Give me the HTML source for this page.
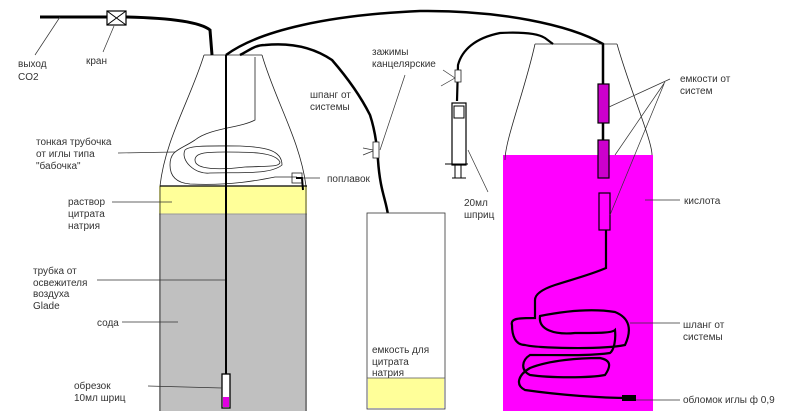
<!DOCTYPE html>
<html><head><meta charset="utf-8"><style>
html,body{margin:0;padding:0;background:#fff;}
svg{display:block}
text{font-family:"Liberation Sans",sans-serif;font-size:10px;fill:#333;}
</style></head><body>
<svg width="800" height="411" viewBox="0 0 800 411" xmlns="http://www.w3.org/2000/svg">
<!-- left bottle -->
<rect x="159" y="186" width="148" height="28" fill="#ffff99"/>
<rect x="159" y="214" width="148" height="197" fill="#c0c0c0"/>
<line x1="159" y1="214" x2="307" y2="214" stroke="#999" stroke-width="1"/>
<path d="M204,55 C190,100 165,140 160,186 L160,411 M262,55 C275,100 300,140 306,186 L306,411" fill="none" stroke="#222" stroke-width="0.8"/>
<line x1="204" y1="55" x2="262" y2="55" stroke="#222" stroke-width="0.8"/>
<line x1="160" y1="186" x2="307" y2="186" stroke="#000" stroke-width="1.3"/>
<!-- thin tube -->
<path d="M255,57 L255,120 C240,128 210,128 195,140 C180,150 170,150 170,165 C170,178 178,183 190,184 C230,186 260,180 275,177 L297,177" fill="none" stroke="#222" stroke-width="0.8"/>
<path d="M185,150 C180,160 195,175 210,173 C240,172 270,175 282,165 C282,150 265,147 240,146 C210,146 190,145 185,150 Z" fill="none" stroke="#222" stroke-width="0.8"/>
<path d="M195,160 C195,170 220,170 245,167 C270,166 280,167 280,162 C275,152 250,152 225,152 C205,152 195,153 195,160 Z" fill="none" stroke="#222" stroke-width="0.8"/>
<rect x="292" y="173" width="10" height="10" fill="none" stroke="#222" stroke-width="0.8"/>
<path d="M296,178 L302,178 L303,190" fill="none" stroke="#000" stroke-width="2"/>
<!-- vertical tube left -->
<line x1="226" y1="55" x2="226" y2="374" stroke="#000" stroke-width="2"/>
<rect x="222" y="374" width="8" height="34" fill="#fff" stroke="#000" stroke-width="1.3"/>
<rect x="223" y="397" width="6" height="10" fill="#e000e0"/>
<!-- top-left tube -->
<path d="M40,17 L108,17 M126,17 C170,18 200,22 210,30 L212,55" fill="none" stroke="#000" stroke-width="3"/>
<rect x="107" y="11" width="19" height="14" fill="#fff" stroke="#000" stroke-width="1.2"/>
<path d="M107,11 L126,25 M126,11 L107,25" stroke="#000" stroke-width="1"/>
<!-- big arc -->
<path d="M226,55 C260,30 330,15 420,11 C500,10 570,25 603,44 L603,84 M603,123 L603,140 M603,178 L603,193 M603,230 L603,268" fill="none" stroke="#000" stroke-width="2.5"/>
<!-- right bottle -->
<rect x="503" y="155" width="150" height="256" fill="#ff00ff"/>
<path d="M535,44 C525,90 505,140 505,160 M617,44 C630,90 652,140 652,155" fill="none" stroke="#222" stroke-width="0.8"/>
<line x1="535" y1="44" x2="617" y2="44" stroke="#222" stroke-width="0.8"/>
<line x1="603" y1="44" x2="603" y2="84" stroke="#000" stroke-width="1.5"/>
<rect x="598" y="84" width="11" height="39" fill="#cc00cc" stroke="#000" stroke-width="1.2"/>
<rect x="598" y="140" width="11" height="38" fill="#cc00cc" stroke="#000" stroke-width="1.2"/>
<rect x="599" y="193" width="11" height="37" fill="#ff00ff" stroke="#000" stroke-width="1.2"/>
<!-- coil -->
<path d="M606,230 L606,268 C590,275 570,280 555,285 C540,290 535,295 535,300 L535,318 C520,318 510,318 512,325 C512,335 515,345 525,345 C535,348 600,350 625,345 C632,330 630,318 615,312 C590,308 560,312 540,316 C538,330 555,335 575,333 C600,333 612,333 615,330 C616,340 614,350 610,353 C590,356 560,355 530,355 C522,360 520,370 530,375 C550,378 590,378 605,375 C612,365 610,360 600,358 C580,358 550,360 530,368 C518,375 515,385 525,390 C560,395 600,398 630,398" fill="none" stroke="#000" stroke-width="2.2"/>
<rect x="622" y="395" width="14" height="6" fill="#000"/>
<!-- middle hose -->
<path d="M240,55 C250,50 255,45 265,45 C285,43 310,45 332,60 C345,75 360,95 370,115 C375,130 377,145 378,160 C380,190 386,200 388,215 C388,240 388,260 393,280 L395,300" fill="none" stroke="#000" stroke-width="2.5"/>
<rect x="373" y="142" width="6" height="16" fill="#fff" stroke="#222" stroke-width="0.8"/>
<!-- middle container -->
<rect x="367" y="213" width="78" height="196" fill="#fff" stroke="#333" stroke-width="0.8"/>
<rect x="368" y="378" width="76" height="30" fill="#ffff99"/>
<line x1="367" y1="378" x2="445" y2="378" stroke="#555" stroke-width="0.7"/>
<!-- 20ml syringe -->
<path d="M457,101 L458,65 C462,50 475,38 500,33 C520,32 537,33 545,38 L553,44" fill="none" stroke="#000" stroke-width="2.2"/>
<rect x="455" y="70" width="6" height="12" fill="#fff" stroke="#222" stroke-width="0.8"/>
<rect x="452" y="103" width="14" height="62" fill="#fff" stroke="#000" stroke-width="1.2"/>
<rect x="454" y="106" width="10" height="12" fill="#fff" stroke="#000" stroke-width="1"/>
<line x1="445" y1="164" x2="468" y2="164" stroke="#000" stroke-width="1"/>
<path d="M455,164 L455,178 M461,164 L461,178 M452,178 L466,178" stroke="#000" stroke-width="1"/>
<!-- leader lines -->
<g stroke="#333" stroke-width="0.7" fill="none">
<line x1="60" y1="17" x2="35" y2="55"/>
<line x1="114" y1="26" x2="103" y2="52"/>
<line x1="118" y1="153" x2="175" y2="152"/>
<line x1="302" y1="178" x2="320" y2="178"/>
<line x1="112" y1="202" x2="172" y2="202"/>
<line x1="97" y1="280" x2="225" y2="280"/>
<line x1="122" y1="322" x2="178" y2="322"/>
<line x1="148" y1="386" x2="222" y2="388"/>
<line x1="363" y1="148" x2="373" y2="150"/>
<line x1="363" y1="155" x2="373" y2="151"/>
<line x1="380" y1="150" x2="405" y2="75"/>
<line x1="443" y1="70" x2="455" y2="78"/>
<line x1="441" y1="86" x2="455" y2="78"/>
<line x1="468" y1="150" x2="488" y2="192"/>
<line x1="609" y1="107" x2="670" y2="79"/>
<line x1="615" y1="155" x2="665" y2="82"/>
<line x1="610" y1="215" x2="664" y2="84"/>
<line x1="645" y1="200" x2="680" y2="200"/>
<line x1="630" y1="323" x2="680" y2="323"/>
<line x1="636" y1="400" x2="680" y2="400"/>
</g>
<!-- labels -->
<text x="18" y="67">выход</text><text x="18" y="80">CO2</text>
<text x="86" y="64">кран</text>
<text x="36" y="145">тонкая трубочка</text><text x="36" y="157">от иглы типа</text><text x="36" y="169">"бабочка"</text>
<text x="327" y="182">поплавок</text>
<text x="68" y="205">раствор</text><text x="68" y="217">цитрата</text><text x="68" y="229">натрия</text>
<text x="33" y="274">трубка от</text><text x="33" y="286">освежителя</text><text x="33" y="297">воздуха</text><text x="33" y="309">Glade</text>
<text x="97" y="326">сода</text>
<text x="74" y="389">обрезок</text><text x="74" y="401">10мл шриц</text>
<text x="310" y="98">шпанг от</text><text x="310" y="110">системы</text>
<text x="372" y="55">зажимы</text><text x="372" y="67">канцелярские</text>
<text x="464" y="206">20мл</text><text x="464" y="218">шприц</text>
<text x="372" y="353">емкость для</text><text x="372" y="365">цитрата</text><text x="372" y="376">натрия</text>
<text x="680" y="82">емкости от</text><text x="680" y="94">систем</text>
<text x="684" y="204">кислота</text>
<text x="683" y="328">шланг от</text><text x="683" y="340">системы</text>
<text x="683" y="403">обломок иглы ф 0,9</text>
</svg>
</body></html>
